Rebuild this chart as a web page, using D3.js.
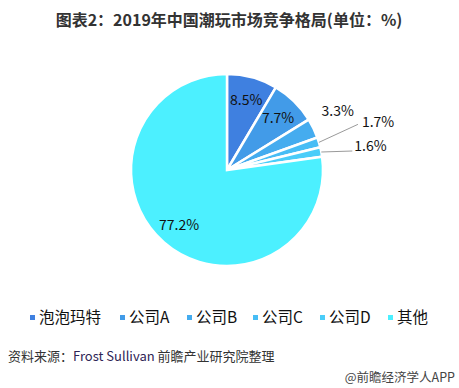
<!DOCTYPE html>
<html>
<head>
<meta charset="utf-8">
<style>
  body { margin: 0; background: #fff; }
  svg text { font-family: "Noto Sans CJK SC", "Noto Sans", sans-serif; }
</style>
</head>
<body>
<svg width="459" height="388"></svg>
<script src="https://d3js.org/d3.v7.min.js"></script>
<script>
// data
var names = ["泡泡玛特", "公司A", "公司B", "公司C", "公司D", "其他"];
var shares = [8.5, 7.7, 3.3, 1.7, 1.6, 77.2];
var colors = ["#3f80e0", "#429be8", "#45acef", "#47bdf5", "#4acdf9", "#4cf0ff"];

var svg = d3.select("svg");
var cx = 227, cy = 170, R = 96;

// title
svg.append("text")
    .attr("x", 229).attr("y", 26)
    .attr("text-anchor", "middle")
    .attr("font-size", 16).attr("font-weight", "bold")
    .attr("fill", "#333")
    .text("图表2：2019年中国潮玩市场竞争格局(单位：%)");

var pie = d3.pie().sort(null).value(function (d) { return d; });
var arcs = pie(shares);
var arc = d3.arc().innerRadius(0).outerRadius(R);

var g = svg.append("g").attr("transform", "translate(" + cx + "," + cy + ")");

g.selectAll("path")
    .data(arcs)
    .enter().append("path")
    .attr("d", arc)
    .attr("fill", function (d, i) { return colors[i]; })
    .attr("stroke", "#fff")
    .attr("stroke-width", 2.5)
    .attr("stroke-linejoin", "miter");

// labels: inside for big slices, outside for small
var inner = d3.arc().innerRadius(R * 0.76).outerRadius(R * 0.76);
var edge = d3.arc().innerRadius(R).outerRadius(R);

// layout of outside labels: leader elbow offset and text offset from slice edge
var outside = {
    2: { line: null, text: [8, -12] },
    3: { line: [39, -18], text: [43, -15] },
    4: { line: [31, -1], text: [33, -1] }
};

arcs.forEach(function (d, i) {
    var label = shares[i].toFixed(1) + "%";
    if (outside[i]) {
        var p = edge.centroid(d);
        var o = outside[i];
        if (o.line) {
            g.append("line")
                .attr("x1", p[0]).attr("y1", p[1])
                .attr("x2", p[0] + o.line[0]).attr("y2", p[1] + o.line[1])
                .attr("stroke", "#9a9a9a").attr("stroke-width", 1);
        }
        g.append("text")
            .attr("x", p[0] + o.text[0]).attr("y", p[1] + o.text[1])
            .attr("font-size", 14).attr("fill", "#111")
            .text(label);
    } else {
        var c = inner.centroid(d);
        g.append("text")
            .attr("x", c[0]).attr("y", c[1] + 5)
            .attr("text-anchor", "middle")
            .attr("font-size", 14).attr("fill", "#111")
            .text(label);
    }
});

// legend
var legendX = [30, 120, 187, 253, 320, 388];
var legend = svg.append("g").attr("transform", "translate(0,317)");
names.forEach(function (n, i) {
    legend.append("rect")
        .attr("x", legendX[i]).attr("y", -2)
        .attr("width", 5).attr("height", 5)
        .attr("fill", colors[i]);
    legend.append("text")
        .attr("x", legendX[i] + 9).attr("y", 6)
        .attr("font-size", 15.5).attr("fill", "#111")
        .text(n);
});

// source
var src = svg.append("text")
    .attr("x", 8).attr("y", 361)
    .attr("font-size", 13).attr("fill", "#333");
src.append("tspan").text("资料来源：");
src.append("tspan").attr("fill", "#2e2455").text("Frost Sullivan ");
src.append("tspan").text("前瞻产业研究院整理");

svg.append("text")
    .attr("x", 455).attr("y", 382)
    .attr("text-anchor", "end")
    .attr("font-size", 12.5).attr("fill", "#444")
    .text("@前瞻经济学人APP");
</script>
</body>
</html>
